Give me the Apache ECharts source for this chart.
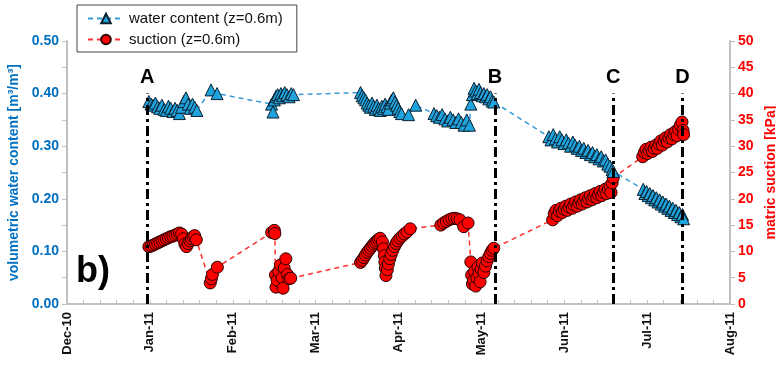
<!DOCTYPE html>
<html>
<head>
<meta charset="utf-8">
<script src="https://cdn.jsdelivr.net/npm/echarts@6/dist/echarts.min.js"></script>
<style>
  html, body { margin: 0; padding: 0; background: #fff; }
  #main { width: 776px; height: 366px; }
</style>
</head>
<body>
<div id="main"></div>
<script>
// x values are days counted from 1 Dec 2010
var monthLabels = ['Dec-10', 'Jan-11', 'Feb-11', 'Mar-11', 'Apr-11', 'May-11', 'Jun-11', 'Jul-11', 'Aug-11'];

// water content (z=0.6m) [m3/m3]
var wcDays = [
  30.0, 30.8, 31.6, 32.4, 33.2, 34.0, 34.8, 35.6, 36.4, 37.2, 38.0, 38.8, 39.6, 40.4, 41.2, 42.0, 42.8, 43.6, 44.4, 45.2, 46.0, 46.8, 47.6,
  52.8, 55.0,
  75.0, 75.5, 76.0, 76.6, 77.2, 77.8, 78.4, 79.0, 79.8, 80.6, 81.4, 82.2, 83.0,
  107.6, 108.2, 108.8, 109.4, 110.0, 110.6, 111.2, 111.8, 112.4, 113.0, 113.6, 114.2, 114.8, 115.4, 116.0, 116.6, 117.2, 117.8, 118.4, 119.0, 119.6, 120.2, 120.8, 121.4, 122.0, 122.6, 125.2, 127.8,
  134.5, 135.5, 136.5, 137.5, 138.5, 139.5, 140.5, 141.5, 142.5, 143.5, 144.5, 145.5, 146.5, 147.5,
  148.0, 148.6, 149.2, 149.8, 150.4, 151.0, 151.6, 152.2, 152.8, 153.4, 154.0, 154.6, 155.2, 155.8, 156.4,
  176.6, 177.4, 178.2, 179.0, 179.8, 180.6, 181.4, 182.2, 183.0, 183.8, 184.6, 185.4, 186.2, 187.0, 187.8, 188.6, 189.4, 190.2, 191.0, 191.8, 192.6, 193.4, 194.2, 195.0, 195.8, 196.6, 197.4, 198.2, 199.0, 199.8, 200.2,
  211.2, 211.8, 212.4, 213.0, 213.6, 214.2, 214.8, 215.4, 216.0, 216.6, 217.2, 217.8, 218.4, 219.0, 219.6, 220.2, 220.8, 221.4, 222.0, 222.6, 223.2, 223.8, 224.4, 225.0, 225.6, 226.0
];
var wcValues = [
  0.385, 0.380, 0.378, 0.382, 0.375, 0.372, 0.378, 0.370, 0.368, 0.376, 0.372, 0.366, 0.372, 0.368, 0.362, 0.374, 0.385, 0.392, 0.380, 0.372, 0.380, 0.374, 0.368,
  0.407, 0.400,
  0.380, 0.365, 0.388, 0.395, 0.398, 0.392, 0.400, 0.396, 0.402, 0.398, 0.394, 0.400, 0.398,
  0.402, 0.396, 0.392, 0.388, 0.382, 0.378, 0.374, 0.382, 0.376, 0.370, 0.378, 0.372, 0.368, 0.376, 0.372, 0.380, 0.375, 0.370, 0.382, 0.388, 0.392, 0.384, 0.378, 0.372, 0.366, 0.362, 0.360, 0.378,
  0.362, 0.358, 0.355, 0.360, 0.352, 0.348, 0.355, 0.350, 0.345, 0.352, 0.345, 0.340, 0.350, 0.340,
  0.380, 0.398, 0.410, 0.405, 0.400, 0.408, 0.402, 0.396, 0.400, 0.394, 0.398, 0.390, 0.394, 0.386, 0.384,
  0.318, 0.312, 0.322, 0.314, 0.308, 0.318, 0.312, 0.305, 0.312, 0.306, 0.300, 0.308, 0.302, 0.296, 0.300, 0.292, 0.296, 0.288, 0.292, 0.284, 0.288, 0.280, 0.284, 0.276, 0.280, 0.272, 0.274, 0.266, 0.262, 0.256, 0.252,
  0.218, 0.210, 0.214, 0.206, 0.210, 0.202, 0.206, 0.198, 0.202, 0.194, 0.198, 0.190, 0.194, 0.186, 0.190, 0.182, 0.186, 0.178, 0.182, 0.174, 0.178, 0.170, 0.174, 0.166, 0.170, 0.162
];

// suction (z=0.6m) [kPa]
var sucDays = [
  30.0, 30.8, 31.6, 32.4, 33.2, 34.0, 34.8, 35.6, 36.4, 37.2, 38.0, 38.8, 39.6, 40.4, 41.2, 42.0, 42.6, 43.2, 43.8, 44.4, 45.0, 45.6, 46.2, 46.8, 47.4,
  52.5, 52.9, 53.3, 55.1,
  75.0, 76.0, 76.2, 76.4, 76.6, 77.0, 77.6, 78.2, 78.8, 79.2, 79.6, 80.2, 80.8, 81.4, 82.0,
  107.6, 108.2, 108.8, 109.4, 110.0, 110.6, 111.2, 111.8, 112.4, 113.0, 113.6, 114.2, 114.8, 115.6, 116.0, 116.3, 116.5, 116.7, 116.9, 117.4, 117.8, 118.3, 118.8, 119.4, 120.0, 120.6, 121.2, 122.0, 122.8, 123.6, 124.6, 125.8,
  137.0, 138.0, 139.0, 140.0, 141.0, 142.0, 143.0, 144.0, 145.4, 147.0,
  148.0, 148.3, 148.6, 149.0, 149.4, 149.8, 150.2, 150.6, 151.0, 151.4, 151.8, 152.2, 152.8, 153.4, 154.0, 154.6, 155.2, 155.8, 156.4,
  178.0, 178.6, 179.2, 179.8, 180.4, 181.0, 181.6, 182.2, 182.8, 183.4, 184.0, 184.6, 185.2, 185.8, 186.4, 187.0, 187.6, 188.2, 188.8, 189.4, 190.0, 190.6, 191.2, 191.8, 192.4, 193.0, 193.6, 194.2, 194.8, 195.4, 196.0, 196.6, 197.2, 197.8, 198.4, 199.0, 199.4, 199.8, 200.2,
  211.0, 211.6, 212.2, 212.8, 213.4, 214.0, 214.6, 215.2, 215.8, 216.4, 217.0, 217.6, 218.2, 218.8, 219.4, 220.0, 220.6, 221.2, 221.8, 222.4, 223.0, 223.6, 224.2, 224.8, 225.4, 225.8, 226.0
];
var sucValues = [
  10.9, 11.0, 11.2, 11.4, 11.6, 11.8, 12.0, 12.2, 12.4, 12.6, 12.8, 12.9, 13.1, 13.3, 13.5, 13.3, 12.4, 11.4, 10.9, 11.5, 12.0, 12.4, 12.8, 13.0, 12.2,
  4.0, 4.8, 5.6, 7.0,
  13.6, 14.0, 13.4, 5.5, 3.2, 4.5, 6.2, 7.4, 5.0, 3.0, 6.8, 8.6, 5.6, 4.8, 4.9,
  7.9, 8.3, 8.8, 9.3, 9.8, 10.2, 10.6, 11.0, 11.4, 11.7, 12.0, 12.3, 12.5, 11.8, 10.5, 9.2, 8.0, 6.8, 5.4, 6.5, 7.6, 8.6, 9.4, 10.2, 10.9, 11.5, 12.0, 12.5, 12.9, 13.3, 13.7, 14.3,
  15.0, 15.4, 15.7, 16.0, 16.2, 16.3, 16.2, 16.0, 14.7, 15.4,
  8.0, 5.5, 3.8, 4.5, 6.2, 3.4, 5.0, 7.0, 5.8, 4.2, 6.6, 7.8, 6.0, 7.2, 8.2, 9.0, 9.6, 10.2, 10.6,
  16.0, 17.2, 17.8, 16.8, 17.6, 18.2, 17.4, 18.0, 18.6, 17.8, 18.4, 19.0, 18.2, 18.8, 19.4, 18.6, 19.2, 19.8, 19.0, 19.6, 20.2, 19.4, 20.0, 20.6, 19.8, 20.4, 21.0, 20.2, 20.8, 21.4, 20.6, 21.2, 21.8, 21.0, 21.8, 22.4, 21.2, 23.0, 24.0,
  28.0, 28.8, 29.4, 28.6, 29.2, 29.8, 29.0, 29.6, 30.2, 29.6, 30.4, 31.0, 30.2, 31.0, 31.6, 30.8, 31.6, 32.2, 31.4, 32.2, 32.8, 32.0, 33.2, 34.0, 34.6, 33.0, 32.2
];

// vertical marker lines A-D
var markerNames = ['A', 'B', 'C', 'D'];
var markerDays = [29.4, 156.9, 200.2, 225.6];

var FONT = '"Liberation Sans", Arial, sans-serif';
var BLUE = '#0070C0';
var RED = '#FF0000';

function pairs(xs, ys) {
  var out = [];
  for (var i = 0; i < xs.length; i++) {
    out.push([xs[i], ys[i]]);
  }
  return out;
}

var markLines = [];
for (var m = 0; m < markerDays.length; m++) {
  markLines.push([
    { coord: [markerDays[m], 0] },
    { coord: [markerDays[m], 0.40], label: { formatter: markerNames[m] } }
  ]);
}

var chart = echarts.init(document.getElementById('main'));

var option = {
  backgroundColor: '#ffffff',
  animation: false,
  textStyle: { fontFamily: FONT },
  grid: {
    left: 67,
    right: 46,
    top: 41,
    bottom: 62,
    containLabel: false,
    outerBoundsMode: 'none'
  },
  legend: {
    orient: 'vertical',
    left: 77,
    top: 5,
    padding: [6, 14, 5, 10],
    itemGap: 6,
    itemWidth: 36,
    itemHeight: 12,
    borderColor: '#444',
    borderWidth: 1,
    backgroundColor: '#fff',
    textStyle: { fontFamily: FONT, fontSize: 15, color: '#111' },
    data: ['water content (z=0.6m)', 'suction (z=0.6m)']
  },
  xAxis: {
    type: 'value',
    min: 0,
    max: 243,
    interval: 30.375,
    axisLine: { lineStyle: { color: '#c0c0c0', width: 2 } },
    axisTick: { show: true, inside: true, length: 4, lineStyle: { color: '#c0c0c0' } },
    minorTick: { show: true, splitNumber: 5, length: 4, lineStyle: { color: '#c0c0c0' } },
    splitLine: { show: false },
    axisLabel: {
      rotate: 90,
      margin: 8,
      fontFamily: FONT,
      fontSize: 13,
      fontWeight: 'bold',
      color: '#111',
      formatter: function (v) {
        return monthLabels[Math.round(v / 30.375)] || '';
      }
    }
  },
  yAxis: [
    {
      type: 'value',
      min: 0,
      max: 0.5,
      interval: 0.1,
      name: 'volumetric water content [m³/m³]',
      nameLocation: 'middle',
      nameRotate: 90,
      nameGap: 42,
      nameTextStyle: { color: BLUE, fontFamily: FONT, fontSize: 14, fontWeight: 'bold' },
      axisLine: { show: true, lineStyle: { color: '#c0c0c0', width: 2 } },
      axisTick: { show: true, length: 5, lineStyle: { color: '#c0c0c0' } },
      minorTick: { show: true, splitNumber: 2, length: 5, lineStyle: { color: '#c0c0c0' } },
      splitLine: { show: false },
      axisLabel: {
        margin: 8,
        color: BLUE,
        fontFamily: FONT,
        fontSize: 14,
        fontWeight: 'bold',
        formatter: function (v) { return v.toFixed(2); }
      }
    },
    {
      type: 'value',
      position: 'right',
      min: 0,
      max: 50,
      interval: 5,
      name: 'matric suction [kPa]',
      nameLocation: 'middle',
      nameRotate: 90,
      nameGap: 31,
      nameTextStyle: { color: RED, fontFamily: FONT, fontSize: 14, fontWeight: 'bold' },
      axisLine: { show: true, lineStyle: { color: '#c0c0c0', width: 2 } },
      axisTick: { show: true, length: 5, lineStyle: { color: '#c0c0c0' } },
      splitLine: { show: false },
      axisLabel: {
        margin: 8,
        color: RED,
        fontFamily: FONT,
        fontSize: 14,
        fontWeight: 'bold'
      }
    }
  ],
  graphic: [
    {
      type: 'text',
      left: 76,
      top: 254,
      style: { text: 'b)', fontFamily: FONT, fontSize: 36, fontWeight: 'bold', fill: '#000' }
    }
  ],
  series: [
    {
      name: 'suction (z=0.6m)',
      type: 'line',
      yAxisIndex: 1,
      data: pairs(sucDays, sucValues),
      symbol: 'circle',
      symbolSize: 12,
      lineStyle: { color: '#FF3030', width: 1.5, type: [5, 4] },
      itemStyle: { color: RED, borderColor: '#2a0000', borderWidth: 1 },
      z: 3
    },
    {
      name: 'water content (z=0.6m)',
      type: 'line',
      yAxisIndex: 0,
      data: pairs(wcDays, wcValues),
      symbol: 'triangle',
      symbolSize: 12,
      lineStyle: { color: '#3A9AD9', width: 1.5, type: [5, 4] },
      itemStyle: { color: '#1FA3DD', borderColor: '#0a2030', borderWidth: 1 },
      z: 4,
      markLine: {
        silent: true,
        symbol: 'none',
        lineStyle: { color: '#000', width: 3, type: [10, 4, 3, 4] },
        label: {
          show: true,
          position: 'end',
          distance: 6,
          color: '#000',
          fontFamily: FONT,
          fontSize: 20,
          fontWeight: 'bold'
        },
        data: markLines
      }
    }
  ]
};

chart.setOption(option);
</script>
</body>
</html>
